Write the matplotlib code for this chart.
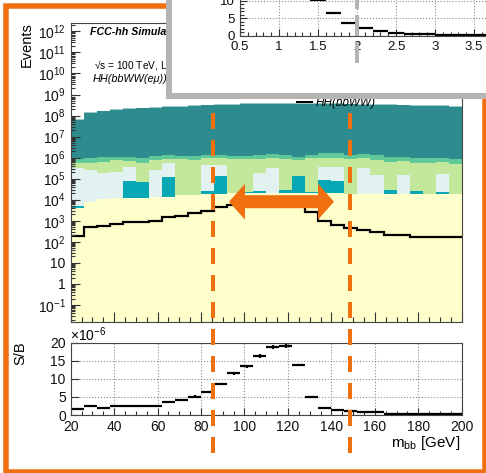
import numpy as np
import matplotlib
matplotlib.use('Agg')
import matplotlib.pyplot as plt
from matplotlib.patches import Rectangle, Polygon
from matplotlib.lines import Line2D
from matplotlib.ticker import FixedLocator, MultipleLocator, LogLocator, NullFormatter, FuncFormatter
from matplotlib.transforms import blended_transform_factory

plt.rcParams['font.family'] = ['Liberation Sans', 'DejaVu Sans']
plt.rcParams['mathtext.fontset'] = 'custom'
plt.rcParams['mathtext.rm'] = 'Liberation Sans'
plt.rcParams['mathtext.it'] = 'Liberation Sans:italic'
plt.rcParams['mathtext.bf'] = 'Liberation Sans:bold'

# m_bb binning, 6 GeV bins
mbb_edges = np.arange(20, 201, 6)

# stack, cumulative top of each layer (log10 events)
top_light  = [7.84, 8.16, 8.24, 8.30, 8.34, 8.38, 8.41, 8.44, 8.47, 8.50, 8.52, 8.54, 8.56, 8.58, 8.59, 8.60,
              8.60, 8.60, 8.59, 8.59, 8.58, 8.57, 8.56, 8.54, 8.53, 8.52, 8.51, 8.50, 8.49, 8.47]
top_teal   = [7.80, 8.12, 8.20, 8.26, 8.30, 8.34, 8.37, 8.40, 8.43, 8.46, 8.48, 8.50, 8.52, 8.54, 8.55, 8.56,
              8.56, 8.56, 8.55, 8.55, 8.54, 8.53, 8.52, 8.50, 8.49, 8.48, 8.47, 8.46, 8.45, 8.43]
top_mgreen = [5.93, 6.00, 6.05, 6.05, 6.05, 5.97, 6.10, 6.12, 6.08, 6.08, 6.12, 6.12, 6.10, 6.08, 6.12, 6.16,
              6.12, 6.05, 6.12, 6.20, 6.20, 6.12, 6.16, 6.12, 6.05, 6.05, 5.97, 5.97, 6.00, 5.94]
top_lgreen = [5.73, 5.73, 5.81, 5.89, 5.85, 5.75, 5.90, 5.95, 5.92, 5.90, 5.97, 5.97, 5.93, 5.95, 5.95, 5.97,
              5.94, 5.89, 5.97, 6.00, 6.00, 5.94, 5.97, 5.89, 5.81, 5.84, 5.73, 5.73, 5.78, 5.68]
top_pale   = [5.49, 5.41, 5.25, 5.30, 5.57, 4.83, 5.41, 5.73, 4.20, 4.22, 5.65, 5.65, 4.30, 4.38, 5.25, 5.49,
              4.45, 5.15, 4.38, 5.57, 5.57, 4.29, 5.49, 5.18, 4.46, 5.18, 4.43, 4.28, 5.20, 4.28]
top_cyan   = [3.72, 3.88, 4.05, 4.10, 4.89, 4.83, 4.14, 5.10, 4.20, 4.22, 4.40, 5.15, 4.30, 4.38, 4.40, 4.32,
              4.45, 5.15, 4.38, 4.95, 4.88, 4.29, 4.29, 4.29, 4.46, 4.28, 4.43, 4.28, 4.38, 4.28]
top_yellow = [3.62, 3.88, 4.05, 4.10, 4.10, 4.10, 4.14, 4.15, 4.20, 4.22, 4.27, 4.28, 4.30, 4.30, 4.32, 4.32,
              4.32, 4.32, 4.31, 4.30, 4.30, 4.29, 4.29, 4.29, 4.28, 4.28, 4.28, 4.28, 4.28, 4.28]

# HH(bbWW) signal (log10 events)
signal_log = [2.26, 2.69, 2.77, 2.85, 2.93, 2.96, 3.00, 3.17, 3.24, 3.36, 3.45, 3.65, 3.76, 3.80, 3.82, 3.82,
              3.80, 3.76, 3.41, 3.00, 2.80, 2.64, 2.57, 2.48, 2.32, 2.33, 2.24, 2.24, 2.24, 2.24]

# S/B in units of 1e-6
sb = [1.75, 2.6, 2.0, 2.4, 2.6, 2.6, 2.6, 3.6, 4.05, 5.1, 6.45, 8.6, 11.5, 13.4, 16.3, 18.7,
      19.1, 13.8, 4.9, 2.0, 1.4, 1.0, 0.9, 0.7, 0.35, 0.3, 0.3, 0.3, 0.3, 0.3]
sb_err = [0.15, 0.2, 0.15, 0.2, 0.2, 0.2, 0.2, 0.25, 0.25, 0.3, 0.3, 0.35, 0.4, 0.4, 0.45, 0.5,
          0.5, 0.4, 0.25, 0.15, 0.1, 0.1, 0.1, 0.1, 0.05, 0.05, 0.05, 0.05, 0.05, 0.05]

# mass window cuts
cut_low, cut_high = 85.5, 148.5

# inset histogram
inset_edges = np.round(np.arange(1.4, 3.81, 0.2), 1)
inset_vals = [10.1, 6.4, 3.6, 2.2, 1.3, 0.8, 0.6, 0.45, 0.35, 0.25, 0.2, 0.15]
inset_cut = 2.0

ORANGE = '#f07010'
GRAYBOX = '#b4b4b4'
layers = [
    (top_light, '#9cc9cb'),
    (top_teal, '#2e8b8e'),
    (top_mgreen, '#60c99a'),
    (top_lgreen, '#c3e89c'),
    (top_pale, '#e2f2f1'),
    (top_cyan, '#07a8b6'),
    (top_yellow, '#ffffcc'),
]

W, H = 486, 473
PX = 72 / 100  # points per pixel


def box(l, t, r, b):
    return [l / W, 1 - b / H, (r - l) / W, (b - t) / H]


fig = plt.figure(figsize=(W / 100, H / 100), dpi=100)
ax = fig.add_axes(box(70.7, 23, 461.7, 321.7))
axr = fig.add_axes(box(70.7, 342.5, 461.7, 415))
deco = fig.add_axes([0, 0, 1, 1], zorder=5)
deco.set_xlim(0, W)
deco.set_ylim(H, 0)
deco.axis('off')
deco.patch.set_alpha(0)
axi = fig.add_axes(box(240, 0, 486, 36), zorder=6)
axi.patch.set_alpha(0)

# ---- main panel
for lvl, col in layers:
    ax.stairs(10 ** np.array(lvl), mbb_edges, baseline=1e-3, fill=True, color=col, lw=0)
ax.stairs(10 ** np.array(signal_log), mbb_edges, baseline=None, color='k', lw=1.6)
ax.set_yscale('log')
ax.set_xlim(20, 200)
ax.set_ylim(10 ** -1.8, 10 ** 12.4)
ylabels = ['$10^{-1}$', '1', '10'] + ['$10^{%d}$' % k for k in range(2, 13)]
ax.yaxis.set_major_locator(FixedLocator(10.0 ** np.arange(-1, 13)))
ax.set_yticklabels(ylabels)
ax.yaxis.set_minor_locator(LogLocator(base=10, subs=np.arange(2, 10), numticks=100))
ax.yaxis.set_minor_formatter(NullFormatter())
ax.xaxis.set_major_locator(MultipleLocator(20))
ax.xaxis.set_minor_locator(MultipleLocator(5))
ax.tick_params(which='both', direction='in', labelbottom=False, labelsize=10, colors='#333333', width=0.8)
ax.tick_params(axis='y', which='major', length=6.5)
ax.tick_params(axis='y', which='minor', length=3.2)
ax.tick_params(axis='x', which='major', length=7.2)
ax.tick_params(axis='x', which='minor', length=3.6)
ax.tick_params(labelcolor='#111111')
for s in ax.spines.values():
    s.set_color('#444444')
    s.set_linewidth(0.8)

# ---- ratio panel
centers = (mbb_edges[:-1] + mbb_edges[1:]) / 2
axr.errorbar(centers, sb, xerr=3, yerr=sb_err, fmt='none', ecolor='k', elinewidth=1.6, capsize=0)
axr.set_xlim(20, 200)
axr.set_ylim(0, 20)
axr.xaxis.set_major_locator(MultipleLocator(20))
axr.xaxis.set_minor_locator(MultipleLocator(5))
axr.yaxis.set_major_locator(MultipleLocator(5))
axr.grid(True, which='major', ls=':', color='#8a8a8a', lw=0.8)
axr.set_axisbelow(True)
axr.tick_params(which='both', direction='in', labelsize=10, colors='#333333', labelcolor='#111111', width=0.8)
axr.tick_params(which='major', length=5.4)
axr.tick_params(which='minor', length=2.9)
for s in axr.spines.values():
    s.set_color('#444444')
    s.set_linewidth(0.8)

# ---- texts
deco.text(90, 32, 'FCC-hh Simulation (Delphes)', weight='bold', style='italic', size=7.7, ha='left', va='center')
deco.text(94, 66, '√s = 100 TeV, L = 30 ab$^{-1}$', size=7.3, ha='left', va='center')
deco.text(93, 79, 'HH(bbWW(eμ))', style='italic', size=7.8, ha='left', va='center')
deco.text(27, 45, 'Events', rotation=90, size=10.5, ha='center', va='center')
deco.text(20, 353, 'S/B', rotation=90, size=10.5, ha='center', va='center')
deco.text(460, 442.5, 'm$_{\\mathrm{bb}}$ [GeV]', size=11, ha='right', va='center')
deco.text(70, 335, '×10$^{-6}$', size=10, ha='left', va='center')
deco.add_line(Line2D([297, 312], [102.5, 102.5], color='k', lw=2 * PX))
deco.text(316, 102.5, 'HH(bbWW)', style='italic', size=8.5, ha='left', va='center')

# ---- orange decorations
deco.add_patch(Rectangle((5.8, 6.3), 484.8 - 5.8, 471.5 - 6.3, fill=False, ec=ORANGE,
                         lw=5.5 * PX, joinstyle='miter', zorder=2))
cut_tr = blended_transform_factory(axr.transData, deco.transData)
for c in (cut_low, cut_high):
    ln = Line2D([c, c], [453, 101.7], color=ORANGE, lw=4 * PX, ls=(0, (4, 2.75)),
                transform=cut_tr, clip_on=False, solid_capstyle='butt', dash_capstyle='butt', zorder=4)
    deco.add_line(ln)

cy, xl, xr, hl, hw, sw = 201.7, 229, 334, 16, 18, 6.5
arrow = [(xl, cy), (xl + hl, cy - hw), (xl + hl, cy - sw), (xr - hl, cy - sw), (xr - hl, cy - hw),
         (xr, cy), (xr - hl, cy + hw), (xr - hl, cy + sw), (xl + hl, cy + sw), (xl + hl, cy + hw)]
deco.add_patch(Polygon(arrow, closed=True, fc=ORANGE, ec='none', zorder=3))

# ---- inset panel
deco.add_patch(Rectangle((168.5, -20), 400, 116, fc='white', ec=GRAYBOX, lw=6 * PX, zorder=10))
inset_c = (inset_edges[:-1] + inset_edges[1:]) / 2
axi.errorbar(inset_c, inset_vals, xerr=0.1, fmt='none', ecolor='k', elinewidth=1.6, capsize=0)
axi.set_xlim(0.5, 0.5 + 246 / 78)
axi.set_ylim(0, 36 / 3.53)
axi.spines['top'].set_visible(False)
axi.spines['right'].set_visible(False)
for s in ('left', 'bottom'):
    axi.spines[s].set_color('#444444')
    axi.spines[s].set_linewidth(0.8)
axi.xaxis.set_major_locator(MultipleLocator(0.5))
axi.xaxis.set_minor_locator(MultipleLocator(0.1))
axi.yaxis.set_major_locator(MultipleLocator(5))
axi.yaxis.set_minor_locator(MultipleLocator(1))
axi.xaxis.set_major_formatter(FuncFormatter(lambda v, p: f'{v:g}'))
axi.yaxis.set_major_formatter(FuncFormatter(lambda v, p: f'{v:g}'))
axi.grid(True, which='major', ls=':', color='#8a8a8a', lw=0.8)
axi.set_axisbelow(True)
axi.tick_params(which='both', direction='in', labelsize=9.5, colors='#333333', labelcolor='#111111', width=0.8)
axi.tick_params(which='major', length=4.8)
axi.tick_params(which='minor', length=2.9)
gray_tr = blended_transform_factory(axi.transData, deco.transData)
axi.add_line(Line2D([inset_cut, inset_cut], [63, -15], color=GRAYBOX, lw=4 * PX, ls=(0, (5.25, 1.5)),
                    transform=gray_tr, clip_on=False, zorder=10))

fig.savefig('out.png', dpi=100)
